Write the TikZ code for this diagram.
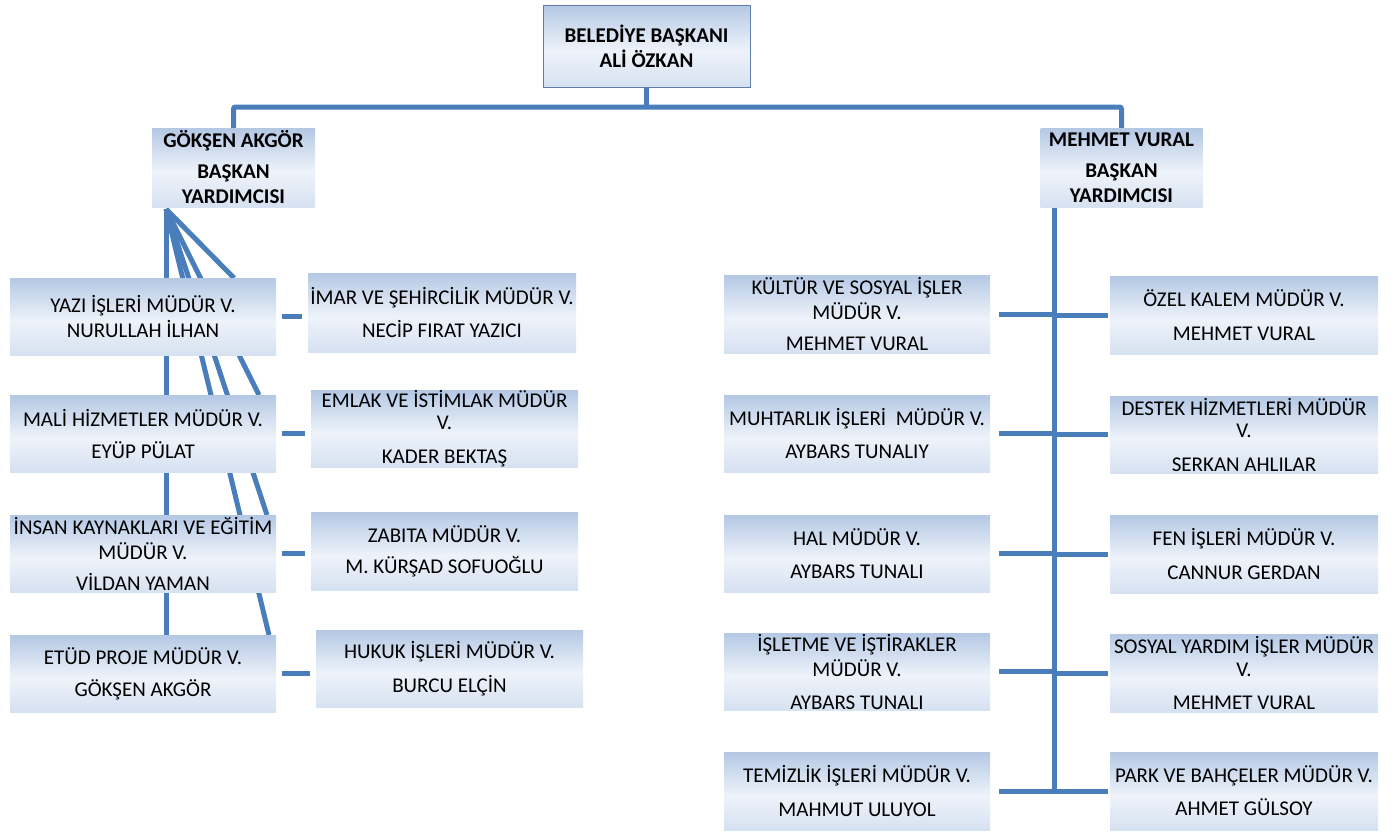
\documentclass[tikz,border=0pt]{standalone}
\usepackage{fontspec}
\setmainfont{Carlito}
\pgfdeclarelayer{back}
\pgfsetlayers{back,main}
\definecolor{r74g126b187}{rgb}{0.290196,0.494118,0.733333}
\definecolor{r180g200b228}{rgb}{0.705882,0.784314,0.894118}
\definecolor{r238g243b250}{rgb}{0.933333,0.952941,0.980392}
\definecolor{r214g225b241}{rgb}{0.839216,0.882353,0.945098}
\definecolor{r95g125b165}{rgb}{0.372549,0.490196,0.647059}
\pgfdeclareverticalshading{boxshade}{100bp}{color(0bp)=(r214g225b241); color(25bp)=(r214g225b241); color(47bp)=(r238g243b250); color(75bp)=(r180g200b228); color(100bp)=(r180g200b228)}
\tikzset{
  unitbox/.style={minimum width=266pt, minimum height=78pt, inner sep=0pt, align=center,
    shading=boxshade, font=\fontsize{21}{25}\selectfont},
  chiefbox/.style={unitbox, font=\fontsize{21}{25}\selectfont\bfseries},
  orgline/.style={line width=5pt, color=r74g126b187},
}
\begin{document}
\begin{tikzpicture}[x=1pt,y=-1pt]
                        \useasboundingbox (0,0) rectangle (1398,831);
                        {

                        % Drawing box of the mayor
                        \node [chiefbox, minimum width=207pt, minimum height=82pt, draw=r95g125b165, line width=1pt] (mayor) at (646.5,46) {BELEDİYE BAŞKANI\\ALİ ÖZKAN};%

                        % Drawing boxes of the deputies
                        \node [chiefbox, minimum width=163pt, minimum height=79pt] (gok) at (233.5,167.5) {GÖKŞEN AKGÖR\\[6pt]BAŞKAN\\YARDIMCISI};%
                        \node [chiefbox, minimum width=162pt, minimum height=79pt] (meh) at (1121.5,168) {MEHMET VURAL\\[6pt]BAŞKAN\\YARDIMCISI};%

                        % Drawing boxes under GÖKŞEN AKGÖR
                        \node [unitbox, minimum height=77pt] (yazi) at (143,316.5) {YAZI İŞLERİ MÜDÜR V.\\NURULLAH İLHAN};%
                        \node [unitbox, minimum height=77pt] (mali) at (143,433.5) {MALİ HİZMETLER MÜDÜR V.\\[7pt]EYÜP PÜLAT};%
                        \node [unitbox, minimum height=77pt] (insan) at (143,553.5) {İNSAN KAYNAKLARI VE EĞİTİM\\MÜDÜR V.\\[6pt]VİLDAN YAMAN};%
                        \node [unitbox, minimum height=77pt] (etud) at (143,673.5) {ETÜD PROJE MÜDÜR V.\\[7pt]GÖKŞEN AKGÖR};%
                        \node [unitbox, minimum width=268pt, minimum height=79pt] (imar) at (442,312.5) {İMAR VE ŞEHİRCİLİK MÜDÜR V.\\[8pt]NECİP FIRAT YAZICI};%
                        \node [unitbox, minimum width=267pt, minimum height=77pt] (emlak) at (444.5,428.5) {EMLAK VE İSTİMLAK MÜDÜR\\[-3pt]V.\\[9pt]KADER BEKTAŞ};%
                        \node [unitbox, minimum width=267pt] (zabita) at (444.5,551) {ZABITA MÜDÜR V.\\[6pt]M. KÜRŞAD SOFUOĞLU};%
                        \node [unitbox, minimum width=267pt, minimum height=77pt] (hukuk) at (449.5,668.5) {HUKUK İŞLERİ MÜDÜR V.\\[9pt]BURCU ELÇİN};%

                        % Drawing boxes under MEHMET VURAL
                        \node [unitbox] (kultur) at (857,314) {KÜLTÜR VE SOSYAL İŞLER\\MÜDÜR V.\\[6pt]MEHMET VURAL};%
                        \node [unitbox, minimum height=77pt] (muhtar) at (857,433.5) {MUHTARLIK İŞLERİ\ \ MÜDÜR V.\\[8pt]AYBARS TUNALIY};%
                        \node [unitbox, minimum height=77pt] (hal) at (857,553.5) {HAL MÜDÜR V.\\[8pt]AYBARS TUNALI};%
                        \node [unitbox, minimum height=77pt] (isletme) at (857,671.5) {İŞLETME VE İŞTİRAKLER\\MÜDÜR V.\\[8pt]AYBARS TUNALI};%
                        \node [unitbox] (temiz) at (857,791) {TEMİZLİK İŞLERİ MÜDÜR V.\\[9pt]MAHMUT ULUYOL};%
                        \node [unitbox, minimum width=268pt] (ozel) at (1244,315) {ÖZEL KALEM MÜDÜR V.\\[9pt]MEHMET VURAL};%
                        \node [unitbox, minimum width=268pt, minimum height=77pt] (destek) at (1244,434.5) {DESTEK HİZMETLERİ MÜDÜR\\[-3pt]V.\\[9pt]SERKAN AHLILAR};%
                        \node [unitbox, minimum width=268pt] (fen) at (1244,554) {FEN İŞLERİ MÜDÜR V.\\[9pt]CANNUR GERDAN};%
                        \node [unitbox, minimum width=268pt] (sosyal) at (1244,673) {SOSYAL YARDIM İŞLER MÜDÜR\\[-2pt]V.\\[8pt]MEHMET VURAL};%
                        \node [unitbox, minimum width=268pt] (park) at (1244,791) {PARK VE BAHÇELER MÜDÜR V.\\[8pt]AHMET GÜLSOY};%

                        % Marking points of the connectors
                        \coordinate (bus) at (646.5,107);%
                        \coordinate (fan) at (166,209);%
                        \coordinate (fanA) at (269,635);%
                        \coordinate (fanB) at (267,515);%
                        \coordinate (fanC) at (259,395);%
                        \coordinate (fanD) at (234,278);%
                        \coordinate (trunk) at (1054,790);%

                        \begin{pgfonlayer}{back}
                        % Drawing line mayor bus
                        \draw [orgline] (mayor.south) -- (bus);%
                        \draw [orgline, rounded corners=2pt] (gok.north) |- (bus) -| (meh.north);%

                        % Drawing lines gok fan
                        \draw [orgline] (fan) -- (fan |- etud.north);%
                        \draw [orgline] (fan) -- (fanA);%
                        \draw [orgline] (fan) -- (fanB);%
                        \draw [orgline] (fan) -- (fanC);%
                        \draw [orgline] (fan) -- (fanD);%

                        % Drawing short lines between the left columns
                        \draw [orgline, shorten <=6pt, shorten >=6pt] (yazi.east) -- (yazi.east -| imar.west);%
                        \draw [orgline, shorten <=6pt, shorten >=6pt] (mali.east) -- (mali.east -| emlak.west);%
                        \draw [orgline, shorten <=6pt, shorten >=6pt] (insan.east) -- (insan.east -| zabita.west);%
                        \draw [orgline, shorten <=6pt, shorten >=6pt] (etud.east) -- (etud.east -| hukuk.west);%

                        % Drawing line meh trunk
                        \draw [orgline] (meh.south -| trunk) -- (trunk);%
                        \foreach \unit in {kultur,muhtar,hal,isletme,temiz}
                          \draw [orgline, shorten <=9pt] (\unit.east) -- (\unit.east -| trunk);%
                        \foreach \unit in {ozel,destek,fen,sosyal,park}
                          \draw [orgline, shorten <=2pt] (\unit.west) -- (\unit.west -| trunk);%
                        \end{pgfonlayer}
                        }
                    \end{tikzpicture}
\end{document}
